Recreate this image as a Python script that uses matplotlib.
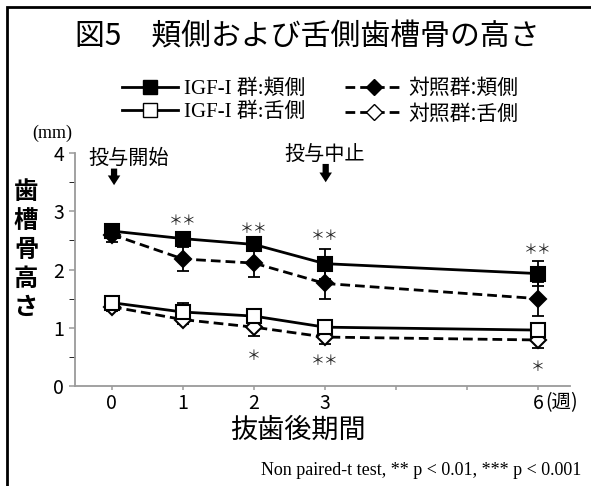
"""
図5 頬側および舌側歯槽骨の高さ
"""
import matplotlib
matplotlib.use("Agg")
import matplotlib.pyplot as plt
from matplotlib.lines import Line2D
from matplotlib.patches import Rectangle

SANS = ["Noto Sans CJK JP", "DejaVu Sans"]
SERIF = ["Liberation Serif", "Noto Sans CJK JP"]
plt.rcParams["font.family"] = SANS

weeks = [0, 1, 2, 3, 6]
tick_weeks = [0, 1, 2, 3, 4, 5, 6]
tick_labels = ["0", "1", "2", "3", "", "", "6"]

igf_buccal = [2.66, 2.53, 2.43, 2.10, 1.93]
igf_buccal_err = [0.12, 0.05, 0.12, 0.26, 0.21]
ctrl_buccal = [2.60, 2.18, 2.11, 1.76, 1.50]
ctrl_buccal_err = [0.13, 0.21, 0.24, 0.27, 0.29]
igf_lingual = [1.43, 1.27, 1.20, 1.01, 0.96]
igf_lingual_err = [0.05, 0.16, 0.05, 0.05, 0.10]
ctrl_lingual = [1.36, 1.14, 1.01, 0.84, 0.79]
ctrl_lingual_err = [0.07, 0.08, 0.16, 0.12, 0.13]

# significance marks (week, y, text)
sig_weeks = [1, 2, 3, 6, 2, 3, 6]
sig_y = [2.83, 2.70, 2.57, 2.33, 0.52, 0.43, 0.33]
sig_text = ["＊＊", "＊＊", "＊＊", "＊＊", "＊", "＊＊", "＊"]

labels = ["IGF-I 群:頬側", "IGF-I 群:舌側", "対照群:頬側", "対照群:舌側"]

W, H = 591, 486


def fx(x):
    return x / W


def fy(y):
    return 1 - y / H


fig = plt.figure(figsize=(W / 100, H / 100), dpi=100)
fig.patch.set_facecolor("white")

# outer frame
fig.patches.append(Rectangle((fx(7), -0.2), 1.2, fy(7) + 0.2, fill=False,
                             lw=2, ec="black", transform=fig.transFigure))

ax = fig.add_axes([fx(75), fy(386), fx(570) - fx(75), fy(153) - fy(386)])
ax.set_xlim(-0.52, 6.45)
ax.set_ylim(0, 4)

for sp in ["top", "right"]:
    ax.spines[sp].set_visible(False)
for sp in ["left", "bottom"]:
    ax.spines[sp].set_color("#9a9a9a")
    ax.spines[sp].set_linewidth(1.3)

ax.set_yticks([0, 1, 2, 3, 4])
ax.set_yticks([0.5, 1.5, 2.5, 3.5], minor=True)
ax.set_xticks(tick_weeks)
ax.set_xticklabels(tick_labels)
ax.tick_params(axis="both", colors="#9a9a9a", labelcolor="black", labelsize=14,
               width=1.1)
ax.tick_params(axis="y", which="both", length=4, pad=4)
ax.tick_params(axis="x", length=3, pad=2)

eb = dict(fmt="none", ecolor="black", elinewidth=1.3, capsize=4, capthick=1.3, zorder=2)
ax.errorbar(weeks, ctrl_lingual, yerr=ctrl_lingual_err, **eb)
ax.errorbar(weeks, igf_lingual, yerr=igf_lingual_err, **eb)
ax.errorbar(weeks, ctrl_buccal, yerr=ctrl_buccal_err, **eb)
ax.errorbar(weeks, igf_buccal, yerr=igf_buccal_err, **eb)

dash = (0, (3.5, 1.8))
ax.plot(weeks, ctrl_lingual, color="black", lw=2, ls=dash, marker="D", ms=8,
        mfc="white", mec="black", mew=1.5, zorder=3)
ax.plot(weeks, igf_lingual, color="black", lw=2, ls="-", marker="s", ms=10,
        mfc="white", mec="black", mew=1.5, zorder=4)
ax.plot(weeks, ctrl_buccal, color="black", lw=2, ls=dash, marker="D", ms=8,
        mfc="black", mec="black", mew=1.5, zorder=3)
ax.plot(weeks, igf_buccal, color="black", lw=2, ls="-", marker="s", ms=10,
        mfc="black", mec="black", mew=1.5, zorder=4)

for w, y, t in zip(sig_weeks, sig_y, sig_text):
    ax.text(w, y, t, ha="center", va="center", fontsize=10, color="#222222")

# dosing start / stop
ax.text(0.24, 3.91, "投与開始", ha="center", va="center", fontsize=14.5, clip_on=False)
ax.text(3.0, 3.96, "投与中止", ha="center", va="center", fontsize=14.5, clip_on=False)
arrow = dict(arrowstyle="simple,head_width=0.9,head_length=0.7,tail_width=0.45",
             color="black", lw=0)
ax.annotate("", xy=(0.03, 3.40), xytext=(0.03, 3.78), arrowprops=arrow,
            annotation_clip=False)
ax.annotate("", xy=(3.01, 3.45), xytext=(3.01, 3.86), arrowprops=arrow,
            annotation_clip=False)

# (週) after the last tick label
ax.annotate("(週)", xy=(6, 0), xytext=(5, -4.5), textcoords="offset points",
            ha="left", va="top", fontsize=14)

# title
fig.text(fx(307), fy(37), "図5\u3000頬側および舌側歯槽骨の高さ", ha="center",
         va="center", fontsize=21.5)

# legend
handles = [
    Line2D([], [], color="black", lw=2, marker="s", ms=10, mfc="black", mec="black"),
    Line2D([], [], color="black", lw=2, marker="s", ms=10, mfc="white", mec="black"),
    Line2D([], [], color="black", lw=2, ls=dash, marker="D", ms=8, mfc="black", mec="black"),
    Line2D([], [], color="black", lw=2, ls=dash, marker="D", ms=8, mfc="white", mec="black"),
]
leg = fig.legend(handles, labels, ncol=2, loc="center",
                 bbox_to_anchor=(fx(320), fy(101)), frameon=False, fontsize=15,
                 handlelength=2.7, handletextpad=0.3, columnspacing=1.9,
                 labelspacing=0.15)
for t in leg.get_texts()[:2]:
    t.set_fontfamily(SERIF)

# y axis unit and label
fig.text(fx(52), fy(133), "(mm)", ha="center", va="center", fontsize=13,
         family=SERIF)
for i, ch in enumerate("歯槽骨高さ"):
    fig.text(fx(26), fy(192 + 29 * i), ch, ha="center", va="center", fontsize=17.5,
             fontweight="bold")

# x label
fig.text(fx(298), fy(430), "抜歯後期間", ha="center", va="center", fontsize=19.5)

# footnote
fig.text(fx(581), fy(470), "Non paired-t test, ** p < 0.01, *** p < 0.001",
         ha="right", va="center", fontsize=13, family=SERIF)

fig.savefig("out.png", dpi=100)
